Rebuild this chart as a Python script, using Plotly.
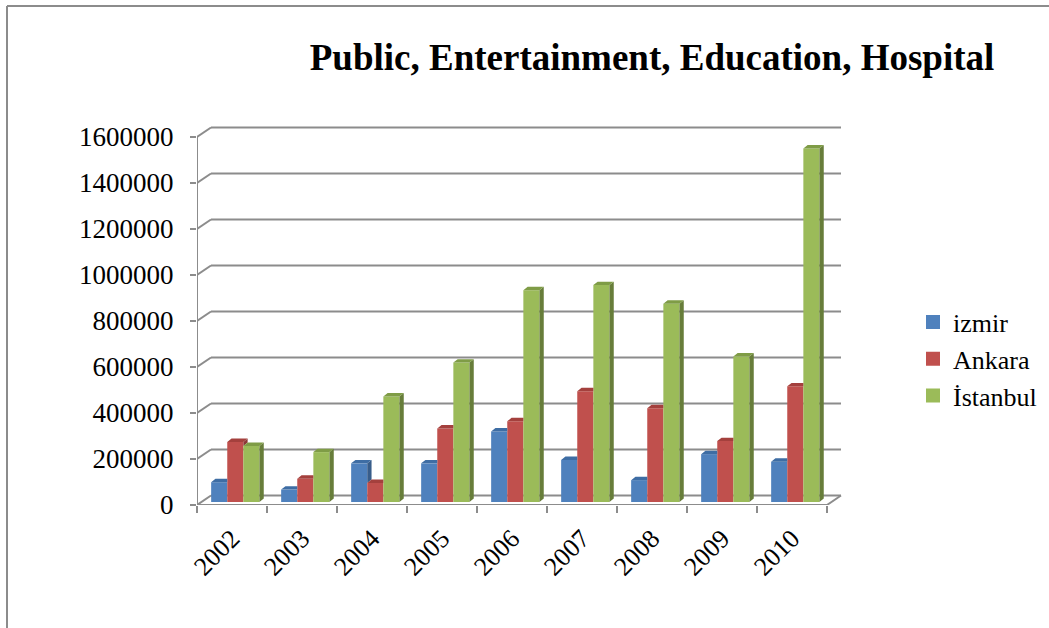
import plotly.graph_objects as go

# Yearly values per city
years = ["2002", "2003", "2004", "2005", "2006", "2007", "2008", "2009", "2010"]
izmir = [86000, 54000, 168000, 168000, 307000, 183000, 95000, 208000, 175000]
ankara = [261000, 101000, 83000, 320000, 351000, 482000, 408000, 265000, 503000]
istanbul = [244000, 217000, 459000, 606000, 921000, 943000, 862000, 633000, 1537000]

series_names = ["izmir", "Ankara", "İstanbul"]
series_values = [izmir, ankara, istanbul]
front_colors = ["#4F81BD", "#C0504D", "#9BBB59"]
side_colors = ["#385D8A", "#8C3836", "#677D3A"]
top_colors = ["#3E6DA4", "#A4403D", "#7F9C46"]

y_ticks = [0, 200000, 400000, 600000, 800000, 1000000, 1200000, 1400000, 1600000]

FONT = "Liberation Serif, Times New Roman, serif"
GRID = "#8C8C8C"

# Pixel geometry of the plotting box
W, H = 1049, 628
L, R, T, B = 197, 850, 118, 505        # plot box edges (front axis at L, floor front at B)
CAT_PX = 70                             # pixels per category
K = 1600000 / 368                       # value units per pixel
BAR_LIFT = 3                            # columns sit slightly behind the front floor edge
n = len(years)

x_range = [-0.5, -0.5 + (R - L) / CAT_PX]
y_range = [0, (B - T) * K]
y2_range = [-BAR_LIFT * K, (B - T - BAR_LIFT) * K]

# Oblique depth of the walls and of the columns
WX, WY = 14 / CAT_PX, 9.5 * K
DX, DY = 4.3 / CAT_PX, 3.4 * K
SHIFT = 3.3 / CAT_PX
BARGAP = 0.31

fig = go.Figure()

for name, vals, col in zip(series_names, series_values, front_colors):
    fig.add_trace(go.Bar(
        x=[i + SHIFT for i in range(n)], y=vals, name=name, legendgroup=name,
        showlegend=False, yaxis="y2", marker=dict(color=col, line=dict(width=0)),
    ))

# Top and right-side faces of the columns
bw = (1 - BARGAP) / len(series_values)
for j, vals in enumerate(series_values):
    sx, sy, tx, ty = [], [], [], []
    last = j == len(series_values) - 1
    for i, v in enumerate(vals):
        x0 = i + SHIFT - (1 - BARGAP) / 2 + j * bw
        x1 = x0 + bw
        vn = 0 if last else series_values[j + 1][i]
        if last or v > vn:
            sx += [x1, x1 + DX, x1 + DX, x1, x1, None]
            sy += [vn, vn + DY, v + DY, v, vn, None]
        right = x1 + DX if (last or vn <= v) else x1
        tx += [x0, x0 + DX, right, x1, x0, None]
        ty += [v, v + DY, v + DY, v, v, None]
    fig.add_trace(go.Scatter(x=sx, y=sy, yaxis="y2", mode="lines", fill="toself",
                             fillcolor=side_colors[j], line=dict(width=0),
                             hoverinfo="skip", showlegend=False))
    fig.add_trace(go.Scatter(x=tx, y=ty, yaxis="y2", mode="lines", fill="toself",
                             fillcolor=top_colors[j], line=dict(width=0),
                             hoverinfo="skip", showlegend=False))

# Legend entries with square swatches
for name, col in zip(series_names, front_colors):
    fig.add_trace(go.Scatter(
        x=[None], y=[None], mode="markers", name=name, legendgroup=name,
        marker=dict(symbol="square", size=14, color=col),
    ))

# Back-wall gridlines with their oblique connectors, the floor and the front axis
line = dict(color=GRID, width=2)
shapes = []
x_left, x_right = -0.5, n - 0.5
for t in y_ticks:
    shapes.append(dict(type="line", xref="x", yref="y", layer="below",
                       x0=x_left, y0=t, x1=x_left + WX, y1=t + WY, line=line))
    shapes.append(dict(type="line", xref="x", yref="y", layer="below",
                       x0=x_left + WX, y0=t + WY, x1=x_right + WX, y1=t + WY, line=line))
shapes.append(dict(type="line", xref="x", yref="y", layer="below",
                   x0=x_left, y0=0, x1=x_right, y1=0, line=line))
shapes.append(dict(type="line", xref="x", yref="y", layer="below",
                   x0=x_right, y0=0, x1=x_right + WX, y1=WY, line=line))
shapes.append(dict(type="line", xref="x", yref="y", layer="below",
                   x0=x_left, y0=0, x1=x_left, y1=y_ticks[-1], line=line))

# Outer frame (top and left edges)
fx = (7 - L) / (R - L)
fy = (B - 6) / (B - T)
shapes.append(dict(type="line", xref="paper", yref="paper",
                   x0=fx, x1=2, y0=fy, y1=fy, line=line))
shapes.append(dict(type="line", xref="paper", yref="paper",
                   x0=fx, x1=fx, y0=fy, y1=-1, line=line))

fig.update_layout(
    width=W, height=H,
    margin=dict(l=L, r=W - R, t=T, b=H - B, autoexpand=False),
    paper_bgcolor="white", plot_bgcolor="rgba(0,0,0,0)",
    barmode="group", bargap=BARGAP, bargroupgap=0,
    shapes=shapes,
    title=dict(text="<b>Public, Entertainment, Education, Hospital</b>",
               x=652 / W, xanchor="center", y=1 - 57 / H, yanchor="middle",
               font=dict(family=FONT, size=37, color="black")),
    legend=dict(x=(913 - L) / (R - L), xanchor="left", y=(B - 359) / (B - T),
                yanchor="middle", font=dict(family=FONT, size=26, color="black"),
                itemwidth=30, tracegroupgap=0, bgcolor="rgba(0,0,0,0)"),
    showlegend=True,
    xaxis=dict(
        range=x_range, tickmode="array", tickvals=list(range(n)), ticktext=years,
        tickangle=-45, ticks="", ticklabelstandoff=12,
        tickfont=dict(family=FONT, size=26, color="black"),
        minor=dict(tickmode="array", tickvals=[i - 0.5 for i in range(n + 1)],
                   ticks="outside", ticklen=7, tickcolor=GRID, tickwidth=2,
                   showgrid=False),
        showline=False, showgrid=False, zeroline=False,
    ),
    yaxis=dict(
        range=y_range, tickmode="array", tickvals=y_ticks,
        ticktext=[str(t) for t in y_ticks],
        tickfont=dict(family=FONT, size=27, color="black"),
        ticks="outside", ticklen=6, tickcolor=GRID, tickwidth=2,
        ticklabelstandoff=11,
        showline=False, showgrid=False, zeroline=False,
    ),
    yaxis2=dict(range=y2_range, overlaying="y", visible=False),
)

fig.write_html("out.html")
